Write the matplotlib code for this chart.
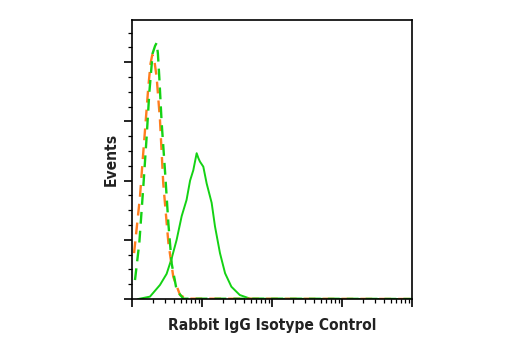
import matplotlib.pyplot as plt
import numpy as np

# x values given as log10 position (decade), y as event counts (arbitrary)
iso_x = [0.03, 0.07, 0.114, 0.15, 0.186, 0.233, 0.265, 0.29, 0.32, 0.352, 0.4, 0.447, 0.52, 0.59, 0.686, 0.78, 4.0]
iso_y = [3.1, 4.9, 6.9, 9.2, 11.4, 14.3, 15.9, 16.5, 16.1, 15.0, 12.1, 7.8, 3.8, 1.5, 0.27, 0.02, 0.0]

dash_x = [0.043, 0.105, 0.162, 0.21, 0.247, 0.295, 0.33, 0.352, 0.37, 0.39, 0.424, 0.471, 0.52, 0.567, 0.638, 0.733, 4.0]
dash_y = [1.28, 3.8, 7.6, 11.0, 13.9, 16.6, 17.1, 17.3, 16.6, 15.0, 11.9, 8.7, 5.1, 2.4, 0.6, 0.02, 0.0]

stain_x = [0.09, 0.257, 0.4, 0.495, 0.567, 0.638, 0.71, 0.78, 0.83, 0.876, 0.924, 0.95,
           0.971, 1.019, 1.067, 1.138, 1.186, 1.257, 1.33, 1.42, 1.54, 1.69, 4.0]
stain_y = [0.0, 0.16, 0.95, 1.7, 2.75, 4.0, 5.6, 6.7, 8.0, 8.7, 9.85, 9.5,
           9.28, 8.94, 7.8, 6.5, 4.9, 3.1, 1.74, 0.83, 0.27, 0.02, 0.0]

green = "#14d214"
orange = "#ff7d1e"

fig = plt.figure(figsize=(5.2, 3.5), dpi=100)
ax = fig.add_axes([0.2538, 0.1457, 0.5385, 0.7972])

ax.plot(10 ** np.array(stain_x), stain_y, color=green, lw=1.4, solid_joinstyle="round")
ax.plot(10 ** np.array(iso_x), iso_y, color=orange, lw=1.7, dashes=(5, 3))
ax.plot(10 ** np.array(dash_x), dash_y, color=green, lw=1.7, dashes=(5, 3), dash_capstyle="butt")

ax.set_xscale("log")
ax.set_xlim(1, 1e4)
ax.set_ylim(0, 18.85)

ax.set_yticks([0, 4, 8, 12, 16])
ax.set_yticks(np.arange(0, 19, 1), minor=True)
ax.tick_params(axis="both", which="major", direction="out", length=6, width=1.2,
               labelleft=False, labelbottom=False, top=False, right=False)
ax.tick_params(axis="both", which="minor", direction="out", length=3, width=0.9,
               top=False, right=False)
for s in ax.spines.values():
    s.set_linewidth(1.2)

fnt = ["DejaVu Sans"]
ax.set_xlabel("Rabbit IgG Isotype Control", fontsize=11.2, fontweight="bold", family=fnt,
              fontstretch="condensed", color="#222222", labelpad=7)
ax.set_ylabel("Events", fontsize=11.2, fontweight="bold", family=fnt, fontstretch="condensed",
              color="#222222", labelpad=3)

plt.savefig("out.png", dpi=100)
